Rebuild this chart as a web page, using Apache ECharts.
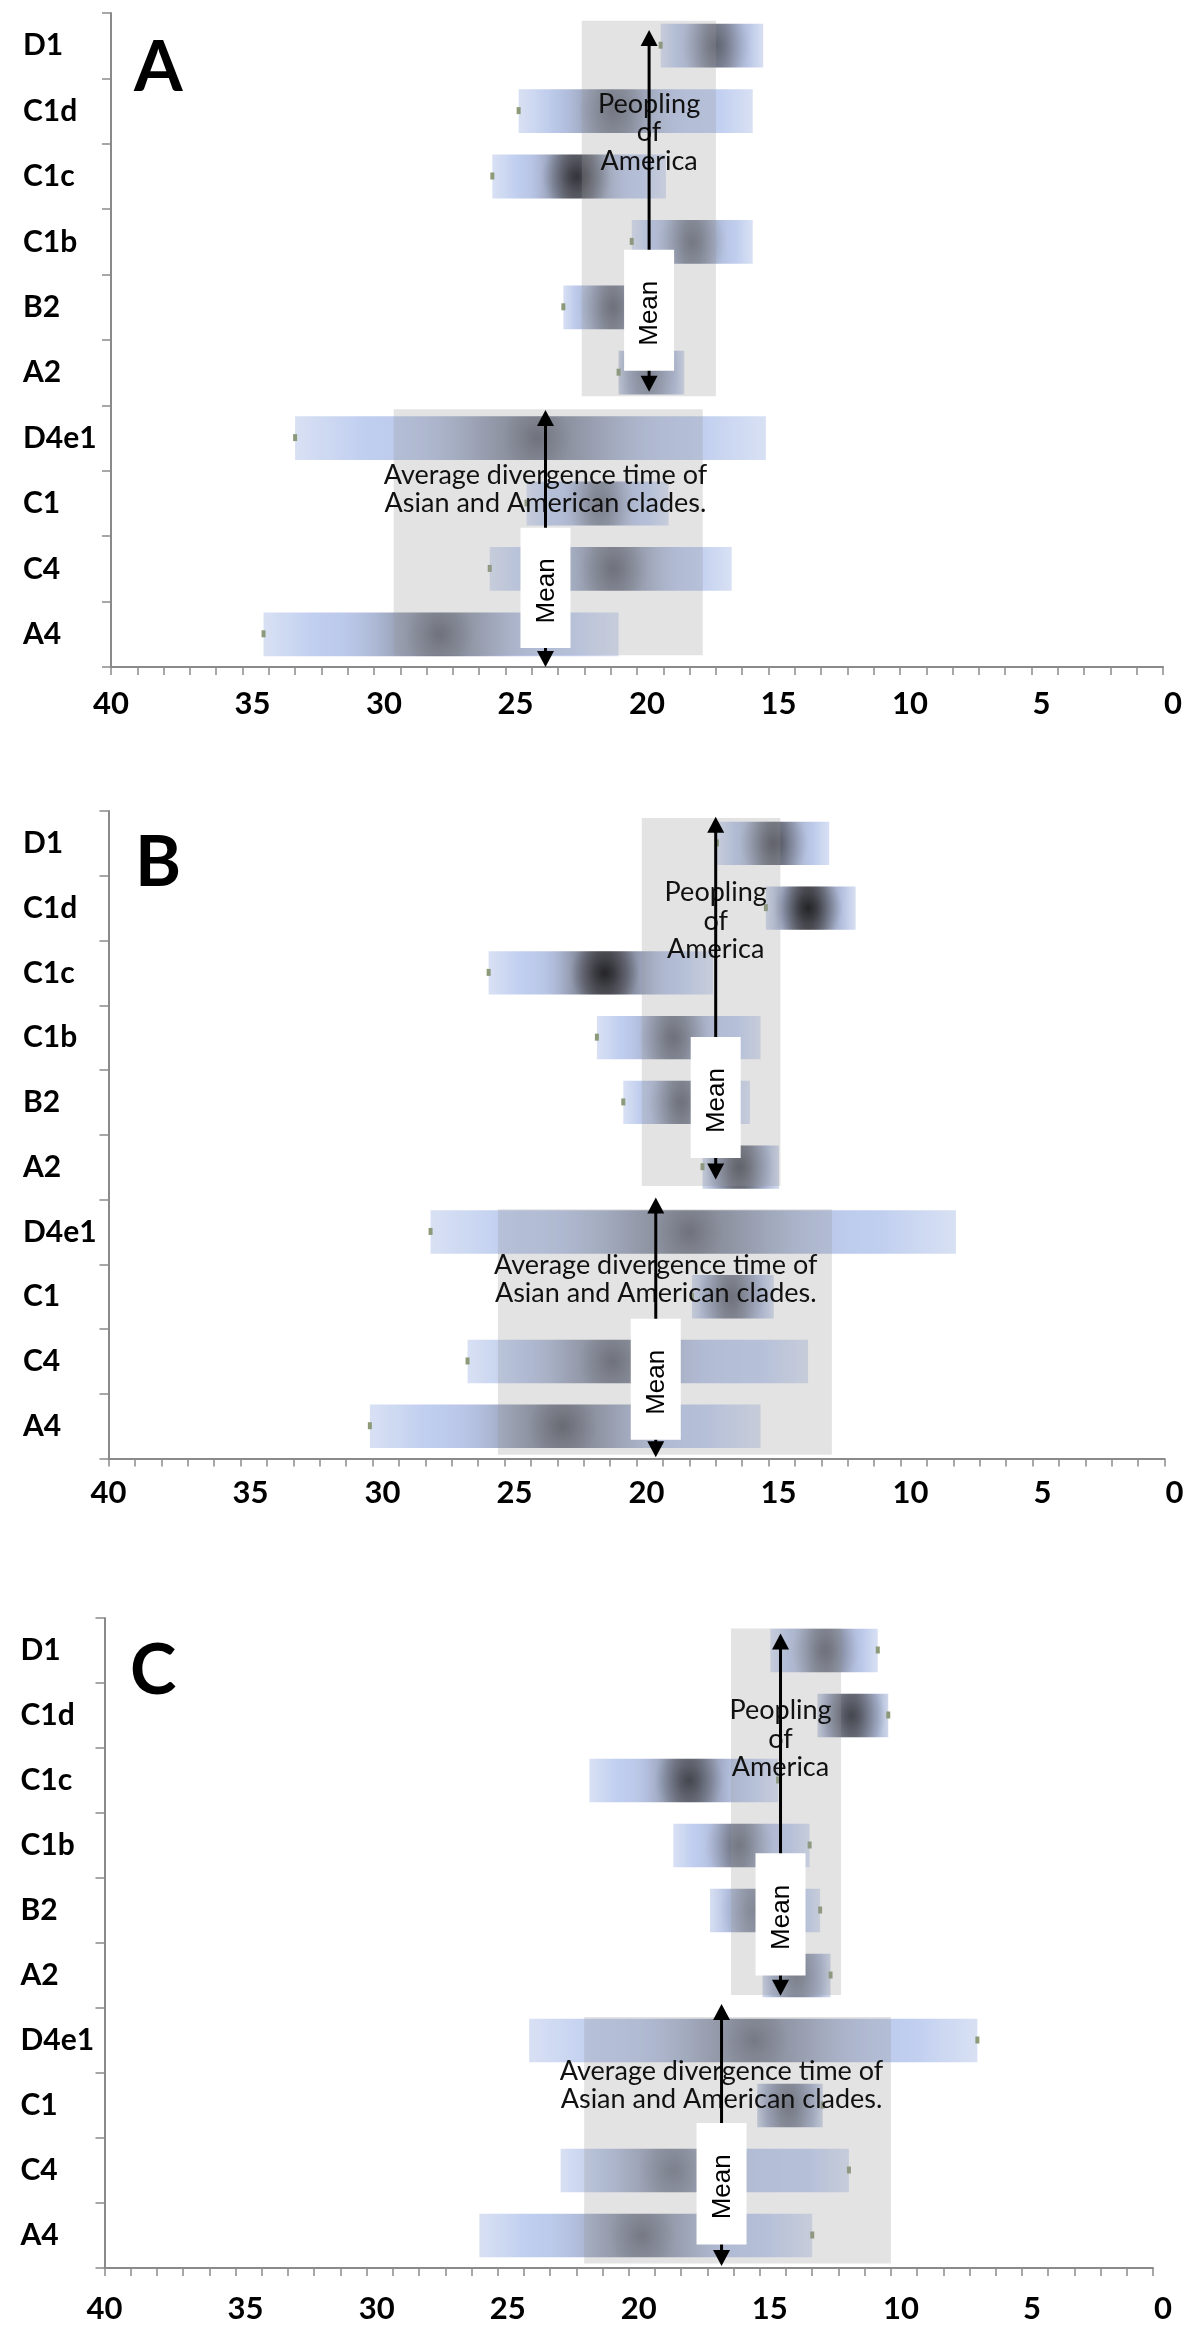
<!DOCTYPE html>
<html><head><meta charset="utf-8">
<script src="https://cdn.jsdelivr.net/npm/echarts@6/dist/echarts.min.js"></script>
<style>html,body{margin:0;padding:0;background:#fff}#c{width:1200px;height:2346px}</style>
</head><body><div id="c"></div>
<script>
// ---------------- data ----------------
const clades = ['D1','C1d','C1c','C1b','B2','A2','D4e1','C1','C4','A4'];
const xTickLabels = ['40','35','30','25','20','15','10','5','0'];

// Panel A (ka): older end, younger end, mode, peak density (0..1)
const aOld   = [19.1, 24.5, 25.5, 20.2, 22.8, 20.7, 33.0, 24.2, 25.6, 34.2];
const aYoung = [15.2, 15.6, 18.9, 15.6, 19.6, 18.2, 15.1, 18.8, 16.4, 20.7];
const aMode  = [17.0, 20.9, 22.3, 17.9, 20.9, 19.6, 23.8, 21.4, 20.9, 27.5];
const aPeak  = [0.60, 0.55, 0.85, 0.55, 0.60, 0.45, 0.60, 0.50, 0.60, 0.60];
const aPeopling = [22.1, 17.0];
const aDivergence = [29.25, 17.5];
const aMeanPeopling = 19.54;
const aMeanDivergence = 23.48;

// Panel B
const bOld   = [16.95, 15.1, 25.6, 21.5, 20.5, 17.5, 27.8, 17.9, 26.4, 30.1];
const bYoung = [12.7, 11.7, 17.1, 15.3, 15.7, 14.6, 7.9, 14.8, 13.5, 15.3];
const bMode  = [14.8, 13.5, 21.2, 18.6, 18.3, 16.1, 18.0, 16.4, 20.9, 22.8];
const bPeak  = [0.70, 0.95, 0.95, 0.60, 0.60, 0.70, 0.60, 0.60, 0.60, 0.65];
const bPeopling = [19.8, 14.55];
const bDivergence = [25.25, 12.6];
const bMeanPeopling = 17.0;
const bMeanDivergence = 19.27;

// Panel C
const cOld   = [14.6, 12.8, 21.5, 18.3, 16.9, 14.9, 23.8, 15.1, 22.6, 25.7];
const cYoung = [10.5, 10.1, 14.3, 13.1, 12.7, 12.3, 6.7, 12.6, 11.6, 13.0];
const cMode  = [12.5, 11.5, 17.7, 15.8, 15.2, 13.6, 15.2, 13.9, 18.3, 19.5];
const cPeak  = [0.60, 0.75, 0.75, 0.55, 0.45, 0.50, 0.55, 0.55, 0.50, 0.55];
const cPeopling = [16.1, 11.9];
const cDivergence = [21.7, 10.0];
const cMeanPeopling = 14.21;
const cMeanDivergence = 16.46;

const peoplingText = 'Peopling\nof\nAmerica';
const divergenceText = 'Average divergence time of\nAsian and American clades.';
const meanText = 'Mean';

// ---------------- layout / style ----------------
const panels = [
  { letter:'A', grid:{left:111, top:13, width:1052, height:654}, letterPos:[134,33],
    old:aOld, young:aYoung, mode:aMode, peak:aPeak, dotEnd:'old', yMargin:88, xMargin:21,
    pRange:aPeopling, dRange:aDivergence, pMean:aMeanPeopling, dMean:aMeanDivergence,
    lay:{pRect:[0.12,5.86], dRect:[6.06,9.82], pArrow:[0.26,5.79], dArrow:[6.07,10.0],
         pBox:[3.62,5.47], dBox:[7.87,9.71], pText:1.83, dText:7.28} },
  { letter:'B', grid:{left:108.5, top:811, width:1056, height:647.6}, letterPos:[135,828],
    old:bOld, young:bYoung, mode:bMode, peak:bPeak, dotEnd:'old', yMargin:85.5, xMargin:19,
    pRange:bPeopling, dRange:bDivergence, pMean:bMeanPeopling, dMean:bMeanDivergence,
    lay:{pRect:[0.11,5.79], dRect:[6.15,9.94], pArrow:[0.09,5.69], dArrow:[5.97,9.98],
         pBox:[3.49,5.36], dBox:[7.84,9.71], pText:1.70, dText:7.23} },
  { letter:'C', grid:{left:104.5, top:1618, width:1048.5, height:650}, letterPos:[130,1636],
    old:cOld, young:cYoung, mode:cMode, peak:cPeak, dotEnd:'young', yMargin:84, xMargin:25,
    pRange:cPeopling, dRange:cDivergence, pMean:cMeanPeopling, dMean:cMeanDivergence,
    lay:{pRect:[0.16,5.80], dRect:[6.14,9.93], pArrow:[0.24,5.81], dArrow:[5.94,9.97],
         pBox:[3.62,5.50], dBox:[7.77,9.64], pText:1.86, dText:7.19} }
];

const AXIS = '#8a8a8a';
const EDGE = [216,224,243], BLUE = [192,206,240], DARK = [88,88,94];
function mix(a,b,t){ return [0,1,2].map(k=>Math.round(a[k]+(b[k]-a[k])*t)); }
function rgb(c){ return 'rgb('+c.join(',')+')'; }

function bandY(api, pos){
  const c0 = api.coord([0,0])[1];
  const band = api.size([0,1])[1];
  return c0 + (pos-0.5)*band;
}

function barRender(dotEnd){
  return function(params, api){
    const i = api.value(0), old = api.value(1), young = api.value(2), mode = api.value(3), peak = api.value(4);
    const pL = api.coord([old, i]), pR = api.coord([young, i]), pM = api.coord([mode, i]);
    const band = api.size([0,1])[1];
    const h = band*0.67, cy = pL[1], x0 = pL[0], w = pR[0]-pL[0];
    const len = old - young;
    const s = Math.max(0.9, 0.17*len);
    const stops = [];
    const N = 48;
    for(let k=0;k<=N;k++){
      const t = k/N, v = old - len*t, d = (v-mode)/s;
      const dark = peak*Math.exp(-d*d);
      const ef = Math.min(1, Math.min(t,1-t)/0.15);
      const base = mix(EDGE, BLUE, ef);
      stops.push({offset:t, color: rgb(mix(base, DARK, dark))});
    }
    const R = h*0.8;
    const rx1 = Math.max(x0, pM[0]-R), rx2 = Math.min(x0+w, pM[0]+R);
    const a = peak*peak*0.8;
    const children = [
      {type:'rect', shape:{x:x0, y:cy-h/2, width:w, height:h},
       style:{fill:new echarts.graphic.LinearGradient(0,0,1,0,stops)}},
      {type:'rect', shape:{x:rx1, y:cy-h/2, width:Math.max(0,rx2-rx1), height:h},
       style:{fill:new echarts.graphic.RadialGradient(pM[0], cy, R, [
         {offset:0, color:'rgba(15,15,18,'+a+')'},
         {offset:0.45, color:'rgba(15,15,18,'+(a*0.45)+')'},
         {offset:1, color:'rgba(15,15,18,0)'}], true)}}
    ];
    const dx = dotEnd === 'old' ? x0 : x0+w;
    children.push({type:'rect', shape:{x:dx-2, y:cy-4, width:4, height:7}, style:{fill:'#8c9a7a'}});
    return {type:'group', children};
  };
}

function rectRender(params, api){
  const x1 = api.coord([api.value(1),0])[0], x2 = api.coord([api.value(2),0])[0];
  const y1 = bandY(api, api.value(3)), y2 = bandY(api, api.value(4));
  return {type:'rect', shape:{x:x1, y:y1, width:x2-x1, height:y2-y1}, style:{fill:'rgba(150,150,150,0.27)'}};
}

function textRender(params, api){
  const x = api.coord([api.value(1),0])[0];
  const y = bandY(api, api.value(2));
  const txt = params.dataIndex === 0 ? peoplingText : divergenceText;
  return {type:'text', x:x, y:y, style:{text:txt, fontFamily:'Lato', fontSize:27, lineHeight:28.5,
    fill:'#111', align:'center', verticalAlign:'middle'}};
}

function lineRender(params, api){
  const x = api.coord([api.value(1),0])[0];
  const y1 = bandY(api, api.value(2)), y2 = bandY(api, api.value(3));
  return {type:'line', shape:{x1:x, y1:y1+8, x2:x, y2:y2-8}, style:{stroke:'#000', lineWidth:3}};
}

function headRender(params, api){
  const x = api.coord([api.value(1),0])[0];
  const y1 = bandY(api, api.value(2)), y2 = bandY(api, api.value(3));
  const hw = 8.5, hl = 16;
  return {type:'group', children:[
    {type:'polygon', shape:{points:[[x,y1],[x-hw,y1+hl],[x+hw,y1+hl]]}, style:{fill:'#000'}},
    {type:'polygon', shape:{points:[[x,y2],[x-hw,y2-hl],[x+hw,y2-hl]]}, style:{fill:'#000'}}
  ]};
}

function boxRender(params, api){
  const x = api.coord([api.value(1),0])[0];
  const y1 = bandY(api, api.value(2)), y2 = bandY(api, api.value(3));
  const bw = 50;
  return {type:'group', children:[
    {type:'rect', shape:{x:x-bw/2, y:y1, width:bw, height:y2-y1}, style:{fill:'#fff'}},
    {type:'text', x:x+1, y:(y1+y2)/2+3, rotation:Math.PI/2,
     style:{text:meanText, fontFamily:'Liberation Sans', fontSize:26, fill:'#000', align:'center', verticalAlign:'middle'}}
  ]};
}

// plain white margin strip along the young (right) edge of the plot, above the time axis
function edgeRender(params, api){
  const x = api.coord([api.value(1),0])[0];
  const y1 = bandY(api, 0) - 4, y2 = bandY(api, clades.length) - 2;
  return {type:'rect', shape:{x:x-2.5, y:y1, width:14, height:y2-y1}, style:{fill:'#fff'}};
}

const labelFont = {fontFamily:'Lato', fontWeight:'bold', fontSize:31, lineHeight:31, color:'#000'};
const grids = [], xAxes = [], yAxes = [], series = [], titles = [];
panels.forEach((p, gi)=>{
  grids.push(Object.assign({containLabel:false}, p.grid));
  xAxes.push({type:'value', gridIndex:gi, position:'bottom', min:0, max:40, interval:1, inverse:true,
    axisLine:{show:true, onZero:false, lineStyle:{color:AXIS, width:2}},
    axisTick:{show:true, length:8, lineStyle:{color:AXIS, width:1.5}},
    splitLine:{show:false},
    axisLabel:Object.assign({
      formatter:v=>{
        const s = String(v);
        if (xTickLabels.indexOf(s) < 0) return '';
        return (s === xTickLabels[0] ? '{f|' : '{s|') + s + '}';
      },
      margin:p.xMargin,
      rich:{f:Object.assign({}, labelFont), s:Object.assign({padding:[0,0,0,20]}, labelFont)}
    }, labelFont)});
  yAxes.push({type:'category', gridIndex:gi, position:'left', data:clades, inverse:true,
    axisLine:{show:true, onZero:false, lineStyle:{color:AXIS, width:2}},
    axisTick:{show:true, length:9, lineStyle:{color:AXIS, width:1.5}},
    splitLine:{show:false},
    axisLabel:{align:'left', margin:p.yMargin, fontFamily:'Lato', fontWeight:'bold', fontSize:30, color:'#000'}});
  titles.push({text:p.letter, left:p.letterPos[0], top:p.letterPos[1], padding:0,
    textStyle:{fontFamily:'Lato', fontWeight:'bold', fontSize:70, lineHeight:70, color:'#000'}});
  const common = {type:'custom', coordinateSystem:'cartesian2d', xAxisIndex:gi, yAxisIndex:gi, silent:true, clip:false};
  series.push(Object.assign({}, common, {name:p.letter+' clades', z:2, renderItem:barRender(p.dotEnd),
    encode:{x:[1,2,3], y:0},
    data:clades.map((c,i)=>[i, p.old[i], p.young[i], p.mode[i], p.peak[i]])}));
  series.push(Object.assign({}, common, {name:p.letter+' ranges', z:3, renderItem:rectRender,
    encode:{x:[1,2], y:0},
    data:[[0, p.pRange[0], p.pRange[1], p.lay.pRect[0], p.lay.pRect[1]],
          [0, p.dRange[0], p.dRange[1], p.lay.dRect[0], p.lay.dRect[1]]]}));
  series.push(Object.assign({}, common, {name:p.letter+' texts', z:4, renderItem:textRender,
    encode:{x:1, y:0},
    data:[[0, p.pMean, p.lay.pText],[0, p.dMean, p.lay.dText]]}));
  series.push(Object.assign({}, common, {name:p.letter+' arrows', z:5, renderItem:lineRender,
    encode:{x:1, y:0},
    data:[[0, p.pMean, p.lay.pArrow[0], p.lay.pArrow[1]],[0, p.dMean, p.lay.dArrow[0], p.lay.dArrow[1]]]}));
  series.push(Object.assign({}, common, {name:p.letter+' means', z:6, renderItem:boxRender,
    encode:{x:1, y:0},
    data:[[0, p.pMean, p.lay.pBox[0], p.lay.pBox[1]],[0, p.dMean, p.lay.dBox[0], p.lay.dBox[1]]]}));
  series.push(Object.assign({}, common, {name:p.letter+' heads', z:7, renderItem:headRender,
    encode:{x:1, y:0},
    data:[[0, p.pMean, p.lay.pArrow[0], p.lay.pArrow[1]],[0, p.dMean, p.lay.dArrow[0], p.lay.dArrow[1]]]}));
  series.push(Object.assign({}, common, {name:p.letter+' edge', z:20, renderItem:edgeRender,
    encode:{x:1, y:0}, data:[[0, Number(xTickLabels[xTickLabels.length-1])]]}));
});

const chart = echarts.init(document.getElementById('c'), null, {renderer:'canvas'});
chart.setOption({backgroundColor:'#fff', animation:false, title:titles, grid:grids, xAxis:xAxes, yAxis:yAxes, series});
</script></body></html>
